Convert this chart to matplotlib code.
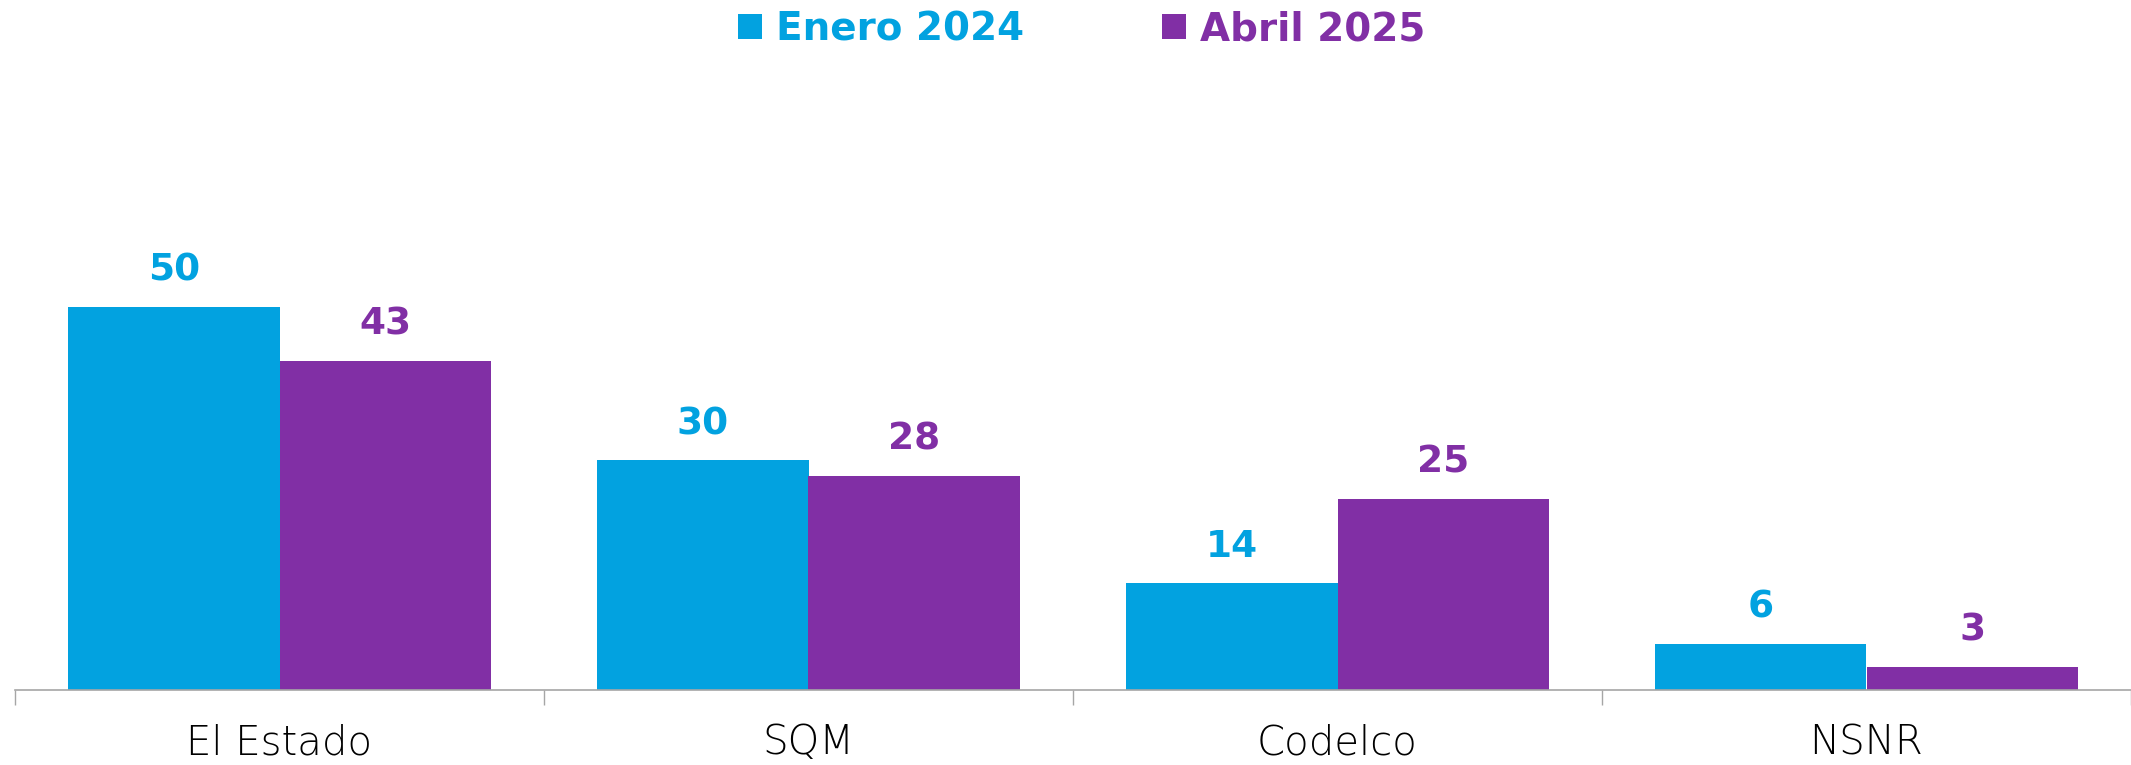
import matplotlib
matplotlib.use("Agg")
import matplotlib.pyplot as plt
from matplotlib.patches import Patch
import numpy as np

categories = ["El Estado", "SQM", "Codelco", "NSNR"]
series_names = ["Enero 2024", "Abril 2025"]
enero_2024 = [50, 30, 14, 6]
abril_2025 = [43, 28, 25, 3]
colors = ["#02A2E0", "#812FA5"]

plt.rcParams['font.family'] = ['DejaVu Sans']

fig = plt.figure(figsize=(21.31, 7.65), dpi=100)
W, H = 2131, 765
base_px = 690
top_px = 100
ax = fig.add_axes([15 / W, 1 - base_px / H, 1 - 15 / W, (base_px - top_px) / H])

x = np.arange(len(categories))
bw = 0.4
px_per_unit = 383 / 50
ax.set_ylim(0, (base_px - top_px) / px_per_unit)
ax.set_xlim(-0.5, len(categories) - 0.5)

for i, (vals, c) in enumerate(zip([enero_2024, abril_2025], colors)):
    offs = (i - 0.5) * bw
    bars = ax.bar(x + offs, vals, width=bw, color=c, zorder=2)
    for b, v in zip(bars, vals):
        ax.annotate(f"{v}", (b.get_x() + b.get_width() / 2, v), xytext=(0, 13),
                    textcoords="offset points", ha="center", va="bottom",
                    fontsize=27, fontweight="bold", color=c)

for s in ["top", "right", "left"]:
    ax.spines[s].set_visible(False)
ax.spines["bottom"].set_color("#A6A6A6")
ax.spines["bottom"].set_linewidth(1.2)
ax.set_yticks([])

ax.set_xticks(np.arange(-0.5, len(categories) - 0.4, 1.0))
ax.set_xticklabels([])
ax.tick_params(axis="x", length=11, color="#A6A6A6", width=1.0, direction="out")
ax.set_xticks(x, minor=True)
ax.set_xticklabels(categories, minor=True, fontsize=29, fontweight="light", color="#000000")
ax.tick_params(axis="x", which="minor", length=0, pad=24)

handles = [Patch(facecolor=c, edgecolor="none") for c in colors]
leg = fig.legend(handles, series_names, loc="center", bbox_to_anchor=(0.5075, 0.962),
                 ncol=2, frameon=False, handlelength=0.62, handleheight=0.62,
                 handletextpad=0.35, columnspacing=3.55, prop={"weight": "bold", "size": 28})
for t, c in zip(leg.get_texts(), colors):
    t.set_color(c)

fig.savefig("out.png", dpi=100)
